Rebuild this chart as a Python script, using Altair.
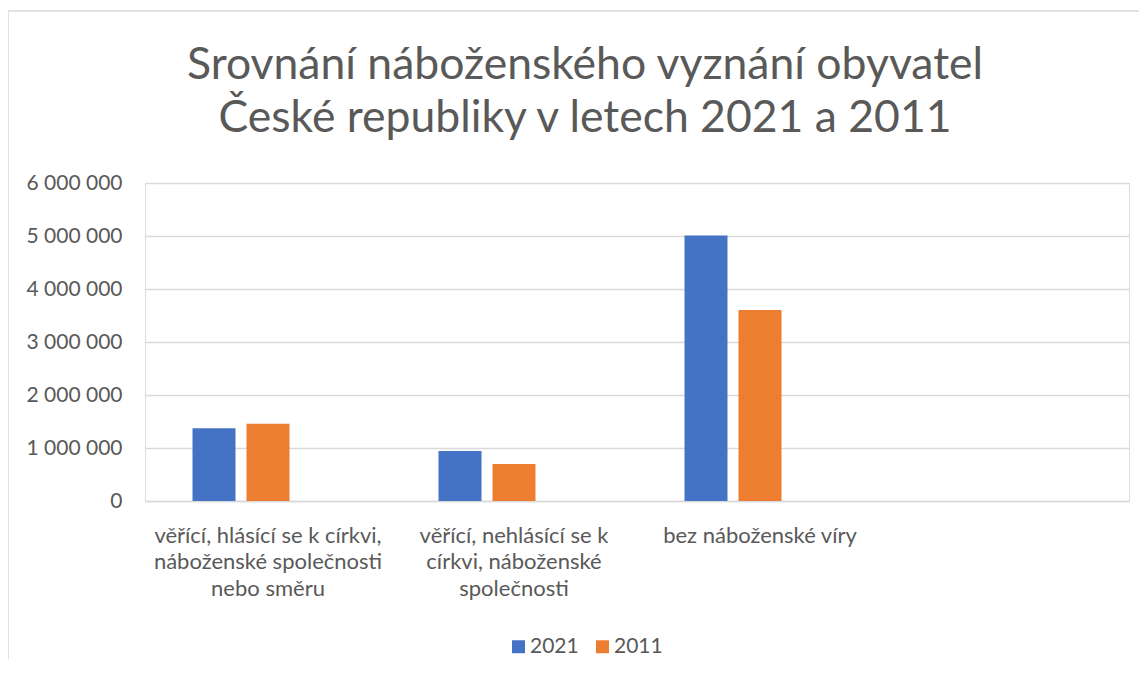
import altair as alt
import pandas as pd

# ---- data ----
categories = [
    "věřící, hlásící se k církvi,|náboženské společnosti|nebo směru",
    "věřící, nehlásící se k|církvi, náboženské|společnosti",
    "bez náboženské víry",
]
empty_category = " "
series = ["2021", "2011"]
empty_series = "-"
values_2021 = [1375000, 945000, 5010000]
values_2011 = [1458000, 700000, 3604000]
y_ticks = [0, 1000000, 2000000, 3000000, 4000000, 5000000, 6000000]
title_lines = ["Srovnání náboženského vyznání obyvatel", "České republiky v letech 2021 a 2011"]
colors = ["#4472C4", "#ED7D31"]

rows = []
for c, v in zip(categories, values_2021):
    rows.append({"cat": c, "series": series[0], "value": v})
for c, v in zip(categories, values_2011):
    rows.append({"cat": c, "series": series[1], "value": v})
df = pd.DataFrame(rows)

FONT = "Lato"
GRAY = "#595959"
GRID = "#d9d9d9"

W, H = 984, 318

bars = alt.Chart(df).mark_bar().encode(
    x=alt.X(
        "cat:N",
        sort=None,
        scale=alt.Scale(domain=categories + [empty_category], paddingInner=0, paddingOuter=0),
        axis=alt.Axis(
            title=None,
            labelAngle=0,
            labelExpr="split(datum.value, '|')",
            labelFont=FONT,
            labelFontSize=22,
            labelColor=GRAY,
            labelLineHeight=26.5,
            labelPadding=24,
            ticks=False,
            domain=True,
            domainColor=GRID,
            domainWidth=1.3,
            grid=False,
            labelLimit=300,
        ),
    ),
    xOffset=alt.XOffset(
        "series:N",
        scale=alt.Scale(domain=series + [empty_series], paddingInner=0.2037, paddingOuter=0.8796),
    ),
    y=alt.Y(
        "value:Q",
        scale=alt.Scale(domain=[0, 6000000], nice=False),
        axis=alt.Axis(
            title=None,
            values=y_ticks,
            labelExpr="replace(format(datum.value, ','), regexp(',', 'g'), ' ')",
            labelFont=FONT,
            labelFontSize=21,
            labelColor=GRAY,
            labelPadding=23,
            ticks=False,
            domain=False,
            grid=True,
            gridColor=GRID,
            gridWidth=1.3,
        ),
    ),
    color=alt.Color(
        "series:N",
        scale=alt.Scale(domain=series, range=colors),
        legend=alt.Legend(
            title=None,
            orient="none",
            direction="horizontal",
            legendX=363,
            legendY=453,
            symbolType="square",
            symbolSize=169,
            symbolStrokeWidth=0,
            labelFont=FONT,
            labelFontSize=21,
            labelColor=GRAY,
            labelOffset=1,
            columnPadding=13,
            padding=0,
        ),
    ),
)

frame_df = pd.DataFrame({"k": [0]})
frame_v = alt.Chart(frame_df).mark_rule(color=GRID, strokeWidth=1.5).encode(
    x=alt.value(-137), y=alt.value(-172), y2=alt.value(476)
)
frame_h = alt.Chart(frame_df).mark_rule(color=GRID, strokeWidth=1.5).encode(
    x=alt.value(-137), x2=alt.value(1000), y=alt.value(-172)
)

chart = (
    alt.layer(frame_v, frame_h, bars)
    .properties(
        width=W,
        height=H,
        title=alt.TitleParams(
            text=title_lines,
            font=FONT,
            fontSize=44.5,
            fontWeight="normal",
            color=GRAY,
            anchor="middle",
            dx=-52,
            lineHeight=53,
            offset=-131,
        ),
        autosize=alt.AutoSizeParams(type="none"),
        padding={"left": 137, "top": 175, "right": 10, "bottom": 160},
    )
    .configure_view(stroke=None)
    .configure(background="white")
)

chart.save("out.html", embed_options={"renderer": "svg", "actions": False})
